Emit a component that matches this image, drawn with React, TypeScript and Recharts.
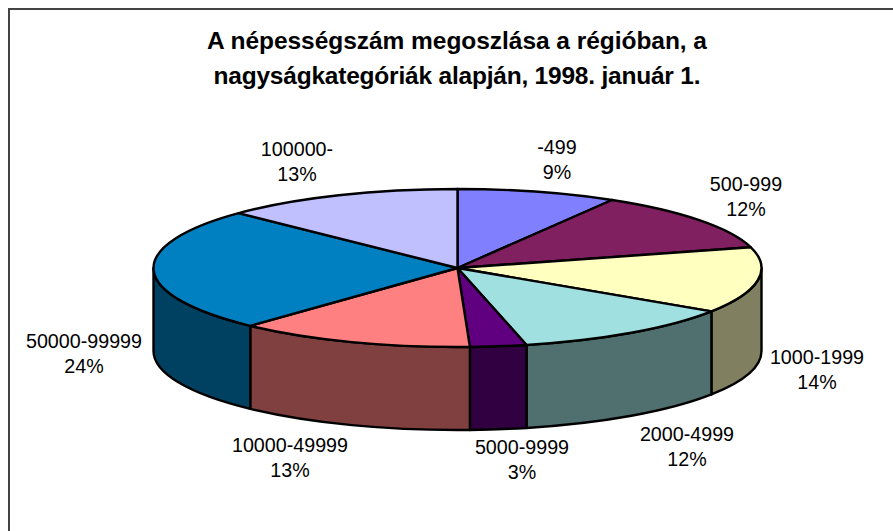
import { PieChart, Pie } from "recharts";

const categories = ["-499", "500-999", "1000-1999", "2000-4999", "5000-9999", "10000-49999", "50000-99999", "100000-"];
// slice sizes, printed percents are kept separately
const values = [8.5, 12.3, 13.5, 12.1, 3.0, 12.6, 25.3, 12.8];
const percentLabels = ["9%", "12%", "14%", "12%", "3%", "13%", "24%", "13%"];
const topColors = ["#8080FF", "#802060", "#FFFFC0", "#A0E0E0", "#600080", "#FF8080", "#0080C0", "#C0C0FF"];
const sideColors = ["#404080", "#401030", "#808060", "#507070", "#300040", "#804040", "#004060", "#606080"];
const titleLines = ["A népességszám megoszlása a régióban, a", "nagyságkategóriák alapján, 1998. január 1."];

const labelCenters = [
  [557, 147], [746, 184], [817, 357], [687, 434],
  [522, 447], [290, 445], [84, 341], [297, 149],
];
const titleBaselines = [49, 84];
const titleWidths = [500, 487];

const SQUASH = 79 / 304;
const DEPTH = 83;
const FONT = "'Liberation Sans', Arial, sans-serif";

const data = categories.map((name, i) => ({ name, value: values[i], fill: topColors[i] }));

function Slice3D(props: any) {
  const { cx, cy, outerRadius: r, startAngle, endAngle, index } = props;
  const ry = r * SQUASH;
  const pt = (deg: number, dy = 0) => {
    const a = (deg * Math.PI) / 180;
    return `${cx + r * Math.cos(a)} ${cy + dy - ry * Math.sin(a)}`;
  };
  const large = startAngle - endAngle > 180 ? 1 : 0;
  const top = `M ${cx} ${cy} L ${pt(startAngle)} A ${r} ${ry} 0 ${large} 1 ${pt(endAngle)} Z`;

  // only the front half of the rim has a visible wall
  const from = Math.min(startAngle, 0);
  const to = Math.max(endAngle, -180);
  const wall =
    from > to
      ? `M ${pt(from)} A ${r} ${ry} 0 0 1 ${pt(to)} L ${pt(to, DEPTH)} A ${r} ${ry} 0 0 0 ${pt(from, DEPTH)} Z`
      : null;

  return (
    <g>
      {wall && <path d={wall} fill={sideColors[index]} stroke="#000" strokeWidth={2.4} strokeLinejoin="round" />}
      <path d={top} fill={topColors[index]} stroke="#000" strokeWidth={2.4} strokeLinejoin="round" />
    </g>
  );
}

function SliceLabel({ index }: any) {
  const [x, y] = labelCenters[index];
  return (
    <text textAnchor="middle" fontFamily={FONT} fontSize={19.7} fill="#000">
      <tspan x={x} y={y + 7}>{categories[index]}</tspan>
      <tspan x={x} y={y + 32}>{percentLabels[index]}</tspan>
    </text>
  );
}

export default function App() {
  return (
    <div style={{ position: "absolute", left: 0, top: 0, width: 893, height: 531, background: "#fff" }}>
      <PieChart width={893} height={531} margin={{ top: 0, right: 0, bottom: 0, left: 0 }}>
        <rect x={9} y={9} width={900} height={540} fill="none" stroke="#444" strokeWidth={2} />
        {titleLines.map((t, i) => (
          <text
            key={t}
            x={457}
            y={titleBaselines[i]}
            textAnchor="middle"
            textLength={titleWidths[i]}
            fontFamily={FONT}
            fontWeight="bold"
            fontSize={24.5}
            fill="#000"
          >
            {t}
          </text>
        ))}
        <Pie
          data={data}
          dataKey="value"
          nameKey="name"
          cx={457.5}
          cy={268}
          outerRadius={304}
          startAngle={90}
          endAngle={-270}
          shape={Slice3D}
          label={SliceLabel}
          labelLine={false}
          isAnimationActive={false}
        />
      </PieChart>
    </div>
  );
}
